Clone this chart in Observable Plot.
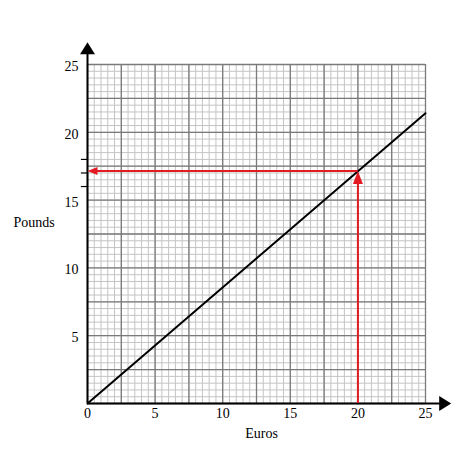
<!DOCTYPE html>
<html>
<head>
<meta charset="utf-8">
<script src="https://cdn.jsdelivr.net/npm/d3@7"></script>
<script src="https://cdn.jsdelivr.net/npm/@observablehq/plot@0.6"></script>
<style>
  html, body { margin: 0; padding: 0; background: #fff; }
</style>
</head>
<body>
<div id="chart"></div>
<script>
// Data
const euros = [0, 25];
const pounds = [0, 21.4];
const readEuros = 20;
const readPounds = 17.15;
const xTicks = [0, 5, 10, 15, 20, 25];
const yTicks = [5, 10, 15, 20, 25];
const markTicks = [16, 17, 18];
const axisMax = 25;
const xLabel = "Euros";
const yLabel = "Pounds";

const lineData = euros.map((e, i) => ({e, p: pounds[i]}));
const minorGrid = d3.range(0, axisMax + 0.001, 0.5);
const majorGrid = d3.range(0, axisMax + 0.001, 2.5);

// arrowhead symbol pointing up, tip at origin
function arrowHead(len, hw) {
  return {
    draw(ctx) {
      ctx.moveTo(0, 0);
      ctx.lineTo(-hw, len);
      ctx.lineTo(hw, len);
      ctx.closePath();
    }
  };
}
const blackHead = arrowHead(12, 7.5);
const redHead = arrowHead(13, 5);
const redHeadL = arrowHead(10, 4);

const font = "Liberation Serif, Times New Roman, serif";
const red = "#e31b23";

const chart = Plot.plot({
  width: 474,
  height: 474,
  marginLeft: 87,
  marginRight: 49,
  marginTop: 64,
  marginBottom: 71,
  x: {domain: [0, axisMax], axis: null},
  y: {domain: [0, axisMax], axis: null},
  style: {fontFamily: font, background: "#fff", overflow: "visible"},
  marks: [
    Plot.ruleX(minorGrid, {y1: 0, y2: axisMax, stroke: "#c4c4c4", strokeWidth: 1}),
    Plot.ruleY(minorGrid, {x1: 0, x2: axisMax, stroke: "#c4c4c4", strokeWidth: 1}),
    Plot.ruleX(majorGrid, {y1: 0, y2: axisMax, stroke: "#7a7a7a", strokeWidth: 1.3}),
    Plot.ruleY(majorGrid, {x1: 0, x2: axisMax, stroke: "#7a7a7a", strokeWidth: 1.3}),
    // axes
    Plot.ruleX([0], {y1: 0, y2: 26.2, stroke: "#000", strokeWidth: 2}),
    Plot.ruleY([0], {x1: 0, x2: 26.4, stroke: "#000", strokeWidth: 2}),
    Plot.dot([{x: 0, y: 26.65}], {x: "x", y: "y", symbol: blackHead, fill: "#000", stroke: null, r: 1}),
    Plot.dot([{x: 26.9, y: 0}], {x: "x", y: "y", symbol: blackHead, rotate: 90, fill: "#000", stroke: null, r: 1}),
    // small ticks on y axis
    Plot.ruleY(markTicks, {x1: -0.45, x2: 0, stroke: "#000", strokeWidth: 1.2}),
    // conversion line
    Plot.line(lineData, {x: "e", y: "p", stroke: "#000", strokeWidth: 2}),
    // red reading lines
    Plot.ruleX([readEuros], {y1: 0, y2: readPounds - 0.6, stroke: red, strokeWidth: 2}),
    Plot.ruleY([readPounds], {x1: readEuros, x2: 0.5, stroke: red, strokeWidth: 2}),
    Plot.dot([{x: readEuros, y: readPounds}], {x: "x", y: "y", symbol: redHead, fill: red, stroke: null, r: 1}),
    Plot.dot([{x: 0, y: readPounds}], {x: "x", y: "y", symbol: redHeadL, rotate: -90, fill: red, stroke: null, r: 1}),
    // tick labels
    Plot.text(yTicks, {x: 0, y: d => d, text: d => String(d), textAnchor: "end", dx: -9, dy: 2, fontSize: 14, fill: "#000"}),
    Plot.text(xTicks, {x: d => d, y: 0, text: d => String(d), dy: 10, fontSize: 14, fill: "#000"}),
    // axis titles
    Plot.text([yLabel], {frameAnchor: "left", textAnchor: "start", dx: -74, dy: -11, fontSize: 14, fill: "#000"}),
    Plot.text([xLabel], {frameAnchor: "bottom", dx: 5, dy: 34, fontSize: 14, fill: "#000"})
  ]
});
document.getElementById("chart").appendChild(chart);
</script>
</body>
</html>
